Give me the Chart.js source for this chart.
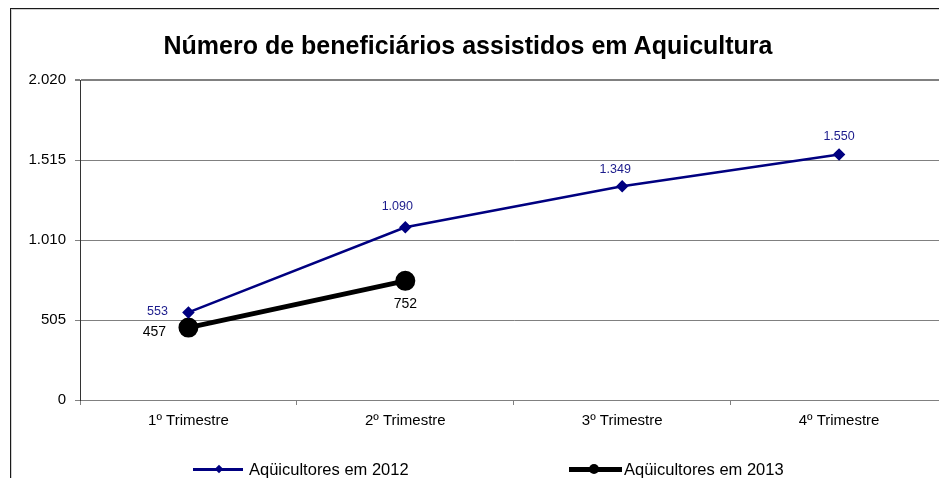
<!DOCTYPE html>
<html>
<head>
<meta charset="utf-8">
<script src="https://cdn.jsdelivr.net/npm/chart.js@4.4.1/dist/chart.umd.min.js"></script>
<style>
  html, body { margin:0; padding:0; overflow:hidden; background:#fff; }
  #page { position:relative; width:939px; height:478px; overflow:hidden; background:#fff;
          font-family:"Liberation Sans", Arial, sans-serif; }
  #frame { position:absolute; left:10px; top:8px; width:1000px; height:600px;
           border-top:1.5px solid #1a1a1a; border-left:1.5px solid #1a1a1a;
           box-sizing:border-box; box-shadow: inset 1px 1px 0 #d0d0d0; }
  #wrap { position:absolute; left:0; top:0; width:960px; height:478px; }
  #title { position:absolute; left:0; top:33px; width:936px; text-align:center; font-weight:bold; font-size:25px; line-height:25px; color:#000; }
  .legText { position:absolute; top:461px; font-size:16.5px; line-height:16.5px; color:#000; white-space:nowrap; }
  .legLine { position:absolute; }
  .legMark { position:absolute; }
</style>
</head>
<body>
<div id="page">
<div id="frame"></div>
<div id="wrap"><canvas id="chart"></canvas></div>
<div id="title">Número de beneficiários assistidos em Aquicultura</div>

<div class="legLine" style="left:193px; top:468px; width:50px; height:2.5px; background:#000080;"></div>
<div class="legMark" style="left:215.5px; top:465.5px; width:6px; height:6px; background:#000080; transform:rotate(45deg);"></div>
<div class="legText" style="left:249px;">Aqüicultores em 2012</div>

<div class="legLine" style="left:569px; top:466.5px; width:53px; height:5px; background:#000;"></div>
<div class="legMark" style="left:589px; top:464px; width:10px; height:10px; border-radius:50%; background:#000;"></div>
<div class="legText" style="left:624px;">Aqüicultores em 2013</div>
</div>

<script>
const categories = ["1º Trimestre", "2º Trimestre", "3º Trimestre", "4º Trimestre"];
const values2012 = [553, 1090, 1349, 1550];
const values2013 = [457, 752, null, null];
const yTicks = [0, 505, 1010, 1515, 2020];

// label offsets (px) relative to each point, per series
const labelOffsets2012 = [[-31, -1], [-8, -21], [-7, -17], [0, -18]];
const labelOffsets2013 = [[-34, 5], [0, 23]];

function fmtNum(v) {
  return String(v).replace(/\B(?=(\d{3})+(?!\d))/g, ".");
}

const pointLabels = {
  id: "pointLabels",
  afterDatasetsDraw(chart) {
    const ctx = chart.ctx;
    chart.data.datasets.forEach((ds, i) => {
      const meta = chart.getDatasetMeta(i);
      const offs = ds.labelOffsets;
      ctx.save();
      ctx.font = ds.labelFont;
      ctx.fillStyle = ds.labelColor;
      ctx.textAlign = "center";
      ctx.textBaseline = "middle";
      meta.data.forEach((pt, j) => {
        const v = ds.data[j];
        if (v == null) return;
        const o = offs[j] || [0, -18];
        ctx.fillText(fmtNum(v), pt.x + o[0], pt.y + o[1]);
      });
      ctx.restore();
    });
  }
};

new Chart(document.getElementById("chart"), {
  type: "line",
  data: {
    labels: categories,
    datasets: [
      {
        label: "Aqüicultores em 2012",
        data: values2012,
        borderColor: "#000080",
        backgroundColor: "#000080",
        borderWidth: 2.5,
        pointStyle: "rectRot",
        pointRadius: 4.5,
        pointHoverRadius: 4.5,
        tension: 0,
        labelOffsets: labelOffsets2012,
        labelFont: "12.5px 'Liberation Sans', Arial",
        labelColor: "#1c1c8c",
      },
      {
        label: "Aqüicultores em 2013",
        data: values2013,
        borderColor: "#000",
        backgroundColor: "#000",
        borderWidth: 5,
        pointStyle: "circle",
        pointRadius: 7.5,
        pointHoverRadius: 7.5,
        tension: 0,
        labelOffsets: labelOffsets2013,
        labelFont: "14px 'Liberation Sans', Arial",
        labelColor: "#000",
      },
    ],
  },
  options: {
    responsive: true,
    maintainAspectRatio: false,
    animation: false,
    layout: { padding: { top: 80, right: 10, bottom: 38, left: 0 } },
    plugins: {
      legend: { display: false },
      title: { display: false },
      tooltip: { enabled: false },
    },
    scales: {
      x: {
        offset: true,
        afterFit: (s) => { s.height = 40; },
        grid: { offset: true, drawOnChartArea: false, color: "#808080", tickLength: 5 },
        border: { color: "#808080", width: 1 },
        ticks: { color: "#000", font: { family: "'Liberation Sans', Arial", size: 15 }, padding: 7, maxRotation: 0 },
      },
      y: {
        min: 0,
        max: 2020,
        afterFit: (s) => { s.width = 80; },
        afterBuildTicks: (s) => { s.ticks = yTicks.map((v) => ({ value: v })); },
        grid: {
          color: "#808080",
          lineWidth: (c) => (c.tick && c.tick.value === 2020 ? 2 : 1),
          tickLength: 5,
        },
        border: { color: "#333", width: 1 },
        ticks: {
          color: "#000",
          font: { family: "'Liberation Sans', Arial", size: 15 },
          padding: 9,
          callback: (v) => fmtNum(v),
        },
      },
    },
  },
  plugins: [pointLabels],
});
</script>
</body>
</html>
